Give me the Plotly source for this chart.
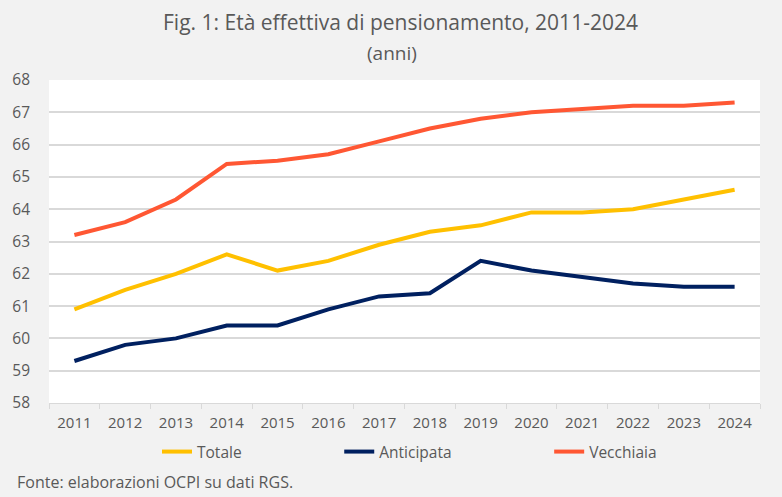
import plotly.graph_objects as go

years = [str(y) for y in range(2011, 2025)]
totale = [60.9, 61.5, 62.0, 62.6, 62.1, 62.4, 62.9, 63.3, 63.5, 63.9, 63.9, 64.0, 64.3, 64.6]
anticipata = [59.3, 59.8, 60.0, 60.4, 60.4, 60.9, 61.3, 61.4, 62.4, 62.1, 61.9, 61.7, 61.6, 61.6]
vecchiaia = [63.2, 63.6, 64.3, 65.4, 65.5, 65.7, 66.1, 66.5, 66.8, 67.0, 67.1, 67.2, 67.2, 67.3]

FONT = "Open Sans, sans-serif"
GREY = "#595959"
W, H = 782, 497
L, R, T, B = 49, 22, 80, 94
PW, PH = W - L - R, H - T - B
PAD = "\u00a0" * 23


def px(x):
    return (x - L) / PW


def py(y):
    return (H - B - y) / PH


fig = go.Figure()
for name, vals, col in [("Totale" + PAD, totale, "#FFC000"),
                        ("Anticipata" + PAD, anticipata, "#002060"),
                        ("Vecchiaia", vecchiaia, "#FF5733")]:
    fig.add_trace(go.Scatter(x=years, y=vals, mode="lines", name=name,
                             line=dict(color=col, width=4)))

fig.update_layout(
    width=W, height=H,
    paper_bgcolor="#F2F2F2", plot_bgcolor="#FFFFFF",
    margin=dict(l=L, r=R, t=T, b=B, autoexpand=False),
    font=dict(family=FONT, color=GREY, size=15),
    showlegend=True,
    legend=dict(orientation="h", x=px(157), xanchor="left", y=py(452), yanchor="middle",
                font=dict(size=15.5, color=GREY), bgcolor="rgba(0,0,0,0)"),
    xaxis=dict(type="category", range=[-0.5, 13.5], tickson="boundaries", ticks="outside", ticklen=5,
               tickcolor="#D9D9D9", showline=True, linecolor="#D9D9D9", linewidth=1,
               showgrid=False, automargin=False, ticklabelstandoff=6,
               tickfont=dict(size=15, color=GREY)),
    yaxis=dict(range=[58, 68], dtick=1, showgrid=True, gridcolor="#D9D9D9", gridwidth=1.5,
               zeroline=False, showline=False, ticks="", automargin=False, ticklabelstandoff=18,
               tickfont=dict(size=15.5, color=GREY)),
    annotations=[
        dict(text="Fig. 1: Età effettiva di pensionamento, 2011-2024", xref="paper", yref="paper",
             x=px(400), xanchor="center", y=py(22), yanchor="middle", showarrow=False,
             font=dict(size=21, color=GREY)),
        dict(text="(anni)", xref="paper", yref="paper",
             x=px(392), xanchor="center", y=py(53), yanchor="middle", showarrow=False,
             font=dict(size=19, color=GREY)),
        dict(text="Fonte: elaborazioni OCPI su dati RGS.", xref="paper", yref="paper",
             x=px(15), xanchor="left", y=py(482), yanchor="middle", showarrow=False,
             font=dict(size=16, color=GREY)),
    ],
)
fig.write_html("out.html", config={"displayModeBar": False},
               post_script="document.body.style.margin='0';document.body.style.padding='0';")
